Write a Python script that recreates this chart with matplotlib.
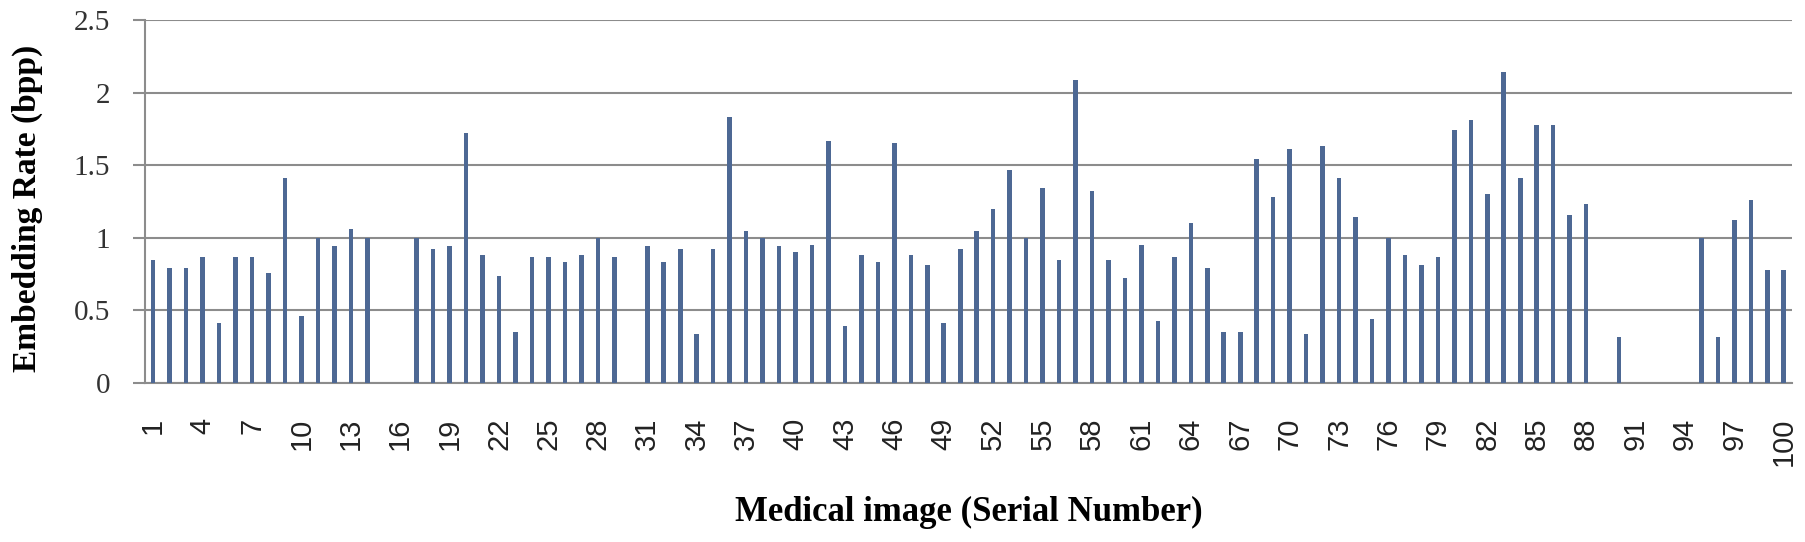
import numpy as np
import matplotlib
matplotlib.use("Agg")
import matplotlib.pyplot as plt

# Embedding rate (bpp) per medical image, serial numbers 1..100
serial_numbers = list(range(1, 101))
embedding_rate = [
    0.85, 0.79, 0.79, 0.87, 0.41, 0.87, 0.87, 0.76, 1.41, 0.46,
    1.00, 0.94, 1.06, 1.00, 0.00, 0.00, 1.00, 0.92, 0.94, 1.72,
    0.88, 0.74, 0.35, 0.87, 0.87, 0.83, 0.88, 1.00, 0.87, 0.00,
    0.94, 0.83, 0.92, 0.34, 0.92, 1.83, 1.05, 1.00, 0.94, 0.90,
    0.95, 1.67, 0.39, 0.88, 0.83, 1.65, 0.88, 0.81, 0.41, 0.92,
    1.05, 1.20, 1.47, 1.00, 1.34, 0.85, 2.09, 1.32, 0.85, 0.72,
    0.95, 0.43, 0.87, 1.10, 0.79, 0.35, 0.35, 1.54, 1.28, 1.61,
    0.34, 1.63, 1.41, 1.14, 0.44, 1.00, 0.88, 0.81, 0.87, 1.74,
    1.81, 1.30, 2.14, 1.41, 1.78, 1.78, 1.16, 1.23, 0.00, 0.32,
    0.00, 0.00, 0.00, 0.00, 1.00, 0.32, 1.12, 1.26, 0.78, 0.78,
]
x_tick_labels = serial_numbers[::3]
y_ticks = [0, 0.5, 1, 1.5, 2, 2.5]

BAR_COLOR = "#4d6894"
GRID_COLOR = "#8c8c8c"

fig = plt.figure(figsize=(18.05, 5.42), dpi=100)
ax = fig.add_axes([0.0803, 0.2934, 0.9125, 0.6697])

ax.bar(serial_numbers, embedding_rate, width=0.28, color=BAR_COLOR, zorder=3)

ax.set_xlim(0.5, 100.5)
ax.set_ylim(0, 2.5)

# horizontal gridlines, no top/right frame
ax.set_yticks(y_ticks)
ax.set_yticklabels([f"{v:g}" for v in y_ticks])
ax.yaxis.grid(True, color=GRID_COLOR, linewidth=1.5, zorder=0)
ax.set_axisbelow(True)
for side in ("top", "right"):
    ax.spines[side].set_visible(False)
for side in ("left", "bottom"):
    ax.spines[side].set_color(GRID_COLOR)
    ax.spines[side].set_linewidth(1.5)

ax.tick_params(axis="y", length=8.6, width=1.5, color=GRID_COLOR, pad=16.5,
               labelsize=21, labelcolor="#333333")
for lbl in ax.get_yticklabels():
    lbl.set_family("Liberation Serif")

ax.set_xticks(x_tick_labels)
ax.set_xticklabels([str(v) for v in x_tick_labels], rotation=90,
                   family="Liberation Sans")
ax.tick_params(axis="x", length=0, pad=25, labelsize=21, labelcolor="#222222")

ax.set_ylabel("Embedding Rate (bpp)", family="Liberation Serif",
              fontweight="bold", fontsize=24, va="center")
ax.yaxis.set_label_coords(-0.0716, 0.48)
ax.set_xlabel("Medical image (Serial Number)", family="Liberation Serif",
              fontweight="bold", fontsize=25, va="center")
ax.xaxis.set_label_coords(0.5, -0.358)

fig.savefig("out.png", dpi=100)
plt.close(fig)
